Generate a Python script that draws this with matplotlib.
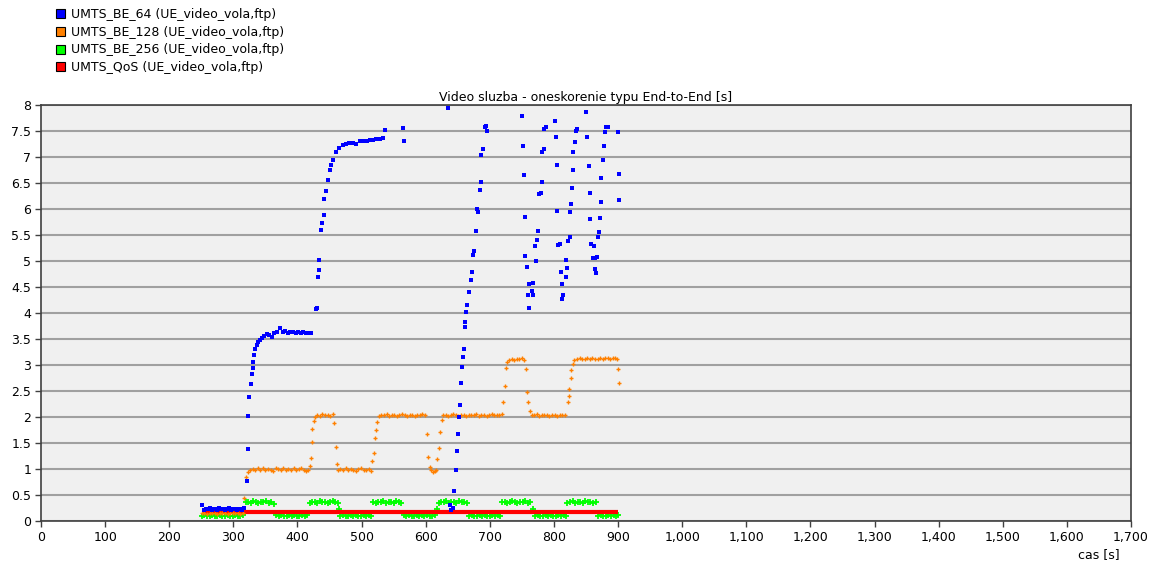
import matplotlib.pyplot as plt
import numpy as np
from matplotlib.patches import Patch
from matplotlib.ticker import FuncFormatter

# UMTS_BE_64 - blue squares
be64_t = [251, 254, 257, 260, 263, 266, 269, 272, 275, 278, 281, 284, 287, 290, 293, 296, 299, 302, 305, 308, 311, 314, 317,
          321, 323, 323.5, 324, 328, 329, 330, 331, 332, 334, 337, 338, 341, 345, 348, 352, 356, 360, 364, 368, 373, 377,
          381, 385, 389, 393, 397, 401, 405, 409, 413, 417, 421,
          429, 431, 432, 433, 434, 437, 438, 441, 442, 444, 447, 450, 452, 456, 460, 465, 471, 476, 481, 487, 492, 497,
          502, 508, 513, 518, 523, 529, 534, 537, 565, 566, 635,
          638, 640, 642, 644, 647, 649, 650, 652, 654, 655, 656, 658, 659, 661, 662, 663, 665, 668, 670, 672, 674, 676,
          678, 680, 682, 684, 686, 686.5, 689, 692, 694, 695,
          750, 752, 753, 755, 755, 758, 760, 761, 761, 766, 767, 767, 771, 772, 774, 775, 777, 780, 781, 782, 784, 785, 788,
          802, 803, 805, 805, 806, 809, 811, 812, 813, 814, 819, 820, 819, 822, 825, 825, 827, 828, 830, 830, 833, 835, 836,
          850, 852, 855, 856, 856, 858, 862, 861, 864, 864, 866, 867, 869, 870, 872, 873, 873, 876, 878, 880, 881, 884,
          900, 901, 901]
be64_v = [0.30, 0.22, 0.24, 0.23, 0.25, 0.22, 0.24, 0.23, 0.22, 0.25, 0.23, 0.24, 0.22, 0.23, 0.25, 0.22, 0.24, 0.23, 0.22, 0.24, 0.23, 0.22, 0.25,
          0.77, 1.38, 2.02, 2.38, 2.63, 2.83, 2.94, 3.06, 3.19, 3.30, 3.38, 3.44, 3.48, 3.52, 3.56, 3.60, 3.58, 3.54, 3.62, 3.64, 3.71, 3.63,
          3.66, 3.62, 3.64, 3.63, 3.62, 3.64, 3.62, 3.63, 3.61, 3.62, 3.62,
          4.08, 4.10, 4.69, 4.83, 5.02, 5.60, 5.73, 5.88, 6.19, 6.35, 6.56, 6.75, 6.85, 6.94, 7.10, 7.17, 7.23, 7.25, 7.27, 7.27, 7.25, 7.30,
          7.30, 7.31, 7.33, 7.33, 7.35, 7.35, 7.36, 7.52, 7.56, 7.31, 7.94,
          0.30, 0.22, 0.25, 0.58, 0.98, 1.35, 1.67, 2.00, 2.23, 2.65, 2.96, 3.15, 3.30, 3.73, 3.83, 4.02, 4.15, 4.40, 4.63, 4.79, 5.11, 5.19,
          5.58, 6.00, 5.94, 6.37, 6.52, 7.04, 7.15, 7.58, 7.60, 7.50,
          7.79, 7.21, 6.65, 5.85, 5.10, 4.89, 4.35, 4.56, 4.10, 4.42, 4.58, 4.35, 5.29, 5.00, 5.40, 5.58, 6.29, 6.31, 6.52, 7.10, 7.15, 7.54, 7.58,
          7.69, 7.38, 6.85, 5.96, 5.31, 5.33, 4.79, 4.27, 4.56, 4.35, 4.69, 4.87, 5.02, 5.38, 5.46, 5.94, 6.10, 6.40, 6.75, 7.10, 7.29, 7.50, 7.54,
          7.87, 7.38, 6.83, 6.31, 5.81, 5.33, 5.29, 5.06, 5.06, 4.85, 4.77, 5.08, 5.46, 5.56, 5.83, 6.13, 6.60, 6.94, 7.21, 7.48, 7.58, 7.58,
          7.48, 6.67, 6.17]

# UMTS_BE_128 - orange crosses
be128_t = [251, 255, 259, 263, 267, 271, 275, 279, 283, 287, 291, 295, 299, 303, 307, 311, 315,
           317, 320, 323,
           326, 330, 334, 338, 342, 346, 350, 354, 358, 362, 366, 370, 374, 378, 382, 386, 390, 394, 398, 402, 406, 410, 414, 417,
           419, 421, 422, 423, 425,
           427, 431, 435, 439, 443, 447, 451, 455,
           457, 460, 461,
           463, 467, 471, 475, 479, 483, 487, 491, 495, 499, 503, 507, 511, 515,
           517, 520, 521, 522, 524,
           527, 531, 535, 539, 543, 547, 551, 555, 559, 563, 567, 571, 575, 579, 583, 587, 591, 595, 599,
           602, 604, 606, 608, 611, 614, 616,
           618, 620, 623, 625,
           627, 631, 635, 639, 643, 647, 651, 655, 659, 663, 667, 671, 675, 679, 683, 687, 691, 695, 699, 703, 707, 711, 715, 719,
           721, 723, 725, 727,
           730, 734, 738, 742, 746, 750, 754,
           756, 758, 760, 762,
           765, 769, 773, 777, 781, 785, 789, 793, 797, 801, 805, 809, 813, 817,
           822, 823, 824, 826, 827, 829,
           832, 836, 840, 844, 848, 852, 856, 860, 864, 868, 872, 876, 880, 884, 888, 892, 896, 899,
           900, 901]
be128_v = [0.15, 0.16, 0.14, 0.15, 0.15, 0.16, 0.14, 0.15, 0.16, 0.15, 0.14, 0.15, 0.16, 0.15, 0.15, 0.14, 0.16,
           0.44, 0.85, 0.94,
           0.99, 1.00, 0.98, 1.01, 0.99, 1.02, 0.98, 1.00, 0.99, 0.97, 1.01, 1.00, 0.98, 1.02, 0.99, 1.00, 0.98, 1.01, 0.99, 1.00, 1.02, 0.98, 0.96, 0.99,
           1.05, 1.21, 1.52, 1.77, 1.92,
           2.00, 2.03, 2.02, 2.05, 2.03, 2.04, 2.02, 2.05,
           1.88, 1.42, 1.10,
           0.98, 1.00, 0.99, 1.01, 0.98, 1.00, 0.99, 0.97, 1.00, 1.01, 0.99, 0.98, 1.00, 0.97,
           1.15, 1.31, 1.60, 1.75, 1.90,
           2.02, 2.04, 2.03, 2.05, 2.02, 2.03, 2.04, 2.02, 2.03, 2.05, 2.03, 2.02, 2.04, 2.03, 2.02, 2.04, 2.03, 2.05, 2.03,
           1.67, 1.23, 1.04, 0.98, 0.95, 0.97, 0.99,
           1.19, 1.40, 1.71, 1.94,
           2.03, 2.04, 2.02, 2.03, 2.05, 2.03, 2.02, 2.04, 2.03, 2.02, 2.04, 2.03, 2.03, 2.05, 2.02, 2.03, 2.04, 2.02, 2.03, 2.05, 2.04, 2.03, 2.04, 2.06,
           2.29, 2.60, 2.94, 3.06,
           3.09, 3.11, 3.10, 3.12, 3.11, 3.13, 3.10,
           2.92, 2.48, 2.29, 2.12,
           2.04, 2.03, 2.05, 2.02, 2.03, 2.04, 2.03, 2.02, 2.04, 2.03, 2.02, 2.03, 2.04, 2.03,
           2.29, 2.40, 2.54, 2.75, 2.90, 3.02,
           3.10, 3.11, 3.13, 3.12, 3.11, 3.13, 3.12, 3.14, 3.12, 3.11, 3.13, 3.12, 3.14, 3.13, 3.12, 3.14, 3.13, 3.12,
           2.92, 2.65]

# UMTS_BE_256 - green crosses
be256_t = [251, 255, 259, 263, 267, 271, 275, 279, 283, 287, 291, 295, 299, 303, 307, 311, 315,
           319, 323, 327, 331, 335, 339, 343, 347, 351, 355, 359, 363,
           367, 371, 375, 379, 383, 387, 391, 395, 399, 403, 407, 411, 415,
           419, 423, 427, 431, 435, 439, 443, 447, 451, 455, 459, 463, 465,
           467, 471, 475, 479, 483, 487, 491, 495, 499, 503, 507, 511, 515,
           518, 522, 526, 530, 534, 538, 542, 546, 550, 554, 558, 562,
           566, 570, 574, 578, 582, 586, 590, 594, 598, 602, 606, 610, 614, 617,
           620, 624, 628, 632, 636, 640, 644, 648, 652, 656, 660, 664,
           668, 672, 676, 680, 684, 688, 692, 696, 700, 704, 708, 712, 716,
           719, 723, 727, 731, 735, 739, 743, 747, 751, 755, 759, 763,
           767, 771, 775, 779, 783, 787, 791, 795, 799, 803, 807, 811, 815, 819,
           821, 825, 829, 833, 837, 841, 845, 849, 853, 857, 861, 865,
           869, 873, 877, 881, 885, 889, 893, 897, 900]
be256_v = [0.10, 0.11, 0.09, 0.10, 0.12, 0.10, 0.09, 0.11, 0.10, 0.10, 0.12, 0.09, 0.10, 0.11, 0.10, 0.09, 0.11,
           0.36, 0.37, 0.35, 0.38, 0.36, 0.35, 0.37, 0.36, 0.38, 0.35, 0.37, 0.33,
           0.11, 0.10, 0.12, 0.09, 0.10, 0.11, 0.10, 0.12, 0.10, 0.09, 0.11, 0.10, 0.12,
           0.34, 0.37, 0.36, 0.35, 0.38, 0.36, 0.37, 0.35, 0.36, 0.38, 0.37, 0.35, 0.23,
           0.10, 0.11, 0.09, 0.10, 0.12, 0.10, 0.11, 0.09, 0.10, 0.12, 0.10, 0.11, 0.10,
           0.36, 0.35, 0.37, 0.36, 0.38, 0.35, 0.36, 0.37, 0.35, 0.38, 0.36, 0.34,
           0.11, 0.10, 0.12, 0.10, 0.09, 0.11, 0.10, 0.12, 0.10, 0.11, 0.09, 0.10, 0.11, 0.23,
           0.35, 0.37, 0.36, 0.38, 0.35, 0.36, 0.37, 0.35, 0.38, 0.36, 0.37, 0.34,
           0.10, 0.11, 0.09, 0.10, 0.12, 0.10, 0.11, 0.10, 0.09, 0.11, 0.10, 0.12, 0.10,
           0.36, 0.37, 0.35, 0.36, 0.38, 0.36, 0.35, 0.37, 0.36, 0.38, 0.35, 0.37,
           0.23, 0.10, 0.11, 0.09, 0.10, 0.12, 0.10, 0.11, 0.10, 0.09, 0.11, 0.10, 0.12, 0.10,
           0.35, 0.36, 0.38, 0.35, 0.37, 0.36, 0.35, 0.38, 0.36, 0.37, 0.35, 0.36,
           0.10, 0.11, 0.10, 0.09, 0.12, 0.10, 0.11, 0.10, 0.11]

# UMTS_QoS - red, practically constant
qos_t = [251, 900]
qos_v = [0.18, 0.18]

labels = ['UMTS_BE_64 (UE_video_vola,ftp)', 'UMTS_BE_128 (UE_video_vola,ftp)',
          'UMTS_BE_256 (UE_video_vola,ftp)', 'UMTS_QoS (UE_video_vola,ftp)']
colors = ['#0000ff', '#ff8000', '#00ff00', '#ff0000']

fig = plt.figure(figsize=(11.55, 5.64), dpi=100)
ax = fig.add_axes([41/1155, 1 - 521/564, 1090/1155, 416/564])
ax.set_facecolor('#f0f0f0')

ax.plot(be256_t, be256_v, linestyle='None', marker='+', markersize=4, mew=1.3, color=colors[2], zorder=3)
ax.plot(qos_t, qos_v, color=colors[3], linewidth=3, solid_capstyle='butt', zorder=4)
ax.plot(be128_t, be128_v, linestyle='None', marker='+', markersize=3.5, mew=1.0, color=colors[1], zorder=5)
ax.plot(be64_t, be64_v, linestyle='None', marker='s', markersize=3.2, mew=0, color=colors[0], zorder=6)

ax.set_xlim(0, 1700)
ax.set_ylim(0, 8)
ax.set_xticks(range(0, 1701, 100))
ax.set_yticks(np.arange(0, 8.01, 0.5))
ax.xaxis.set_major_formatter(FuncFormatter(lambda v, p: '{:,.0f}'.format(v)))
ax.yaxis.set_major_formatter(FuncFormatter(lambda v, p: '{:g}'.format(v)))
ax.yaxis.grid(True, color='#a0a0a0', linewidth=1.5)
ax.set_axisbelow(True)
for s in ax.spines.values():
    s.set_color('#404040')
    s.set_linewidth(1.2)
ax.tick_params(direction='out', length=4, width=1, color='#404040', labelsize=9, pad=3)

ax.set_title('Video sluzba - oneskorenie typu End-to-End [s]', fontsize=9, pad=3)
fig.text(1120/1155, 1 - 555/564, 'cas [s]', ha='right', va='center', fontsize=9)

handles = [Patch(facecolor=c, edgecolor='black', linewidth=0.8) for c in colors]
fig.legend(handles, labels, loc='upper left', bbox_to_anchor=(56/1155, 1 - 8/564), frameon=False,
           fontsize=9, handlelength=0.75, handleheight=0.75, handletextpad=0.45,
           labelspacing=0.38, borderaxespad=0, borderpad=0)

fig.savefig('out.png', dpi=100)
